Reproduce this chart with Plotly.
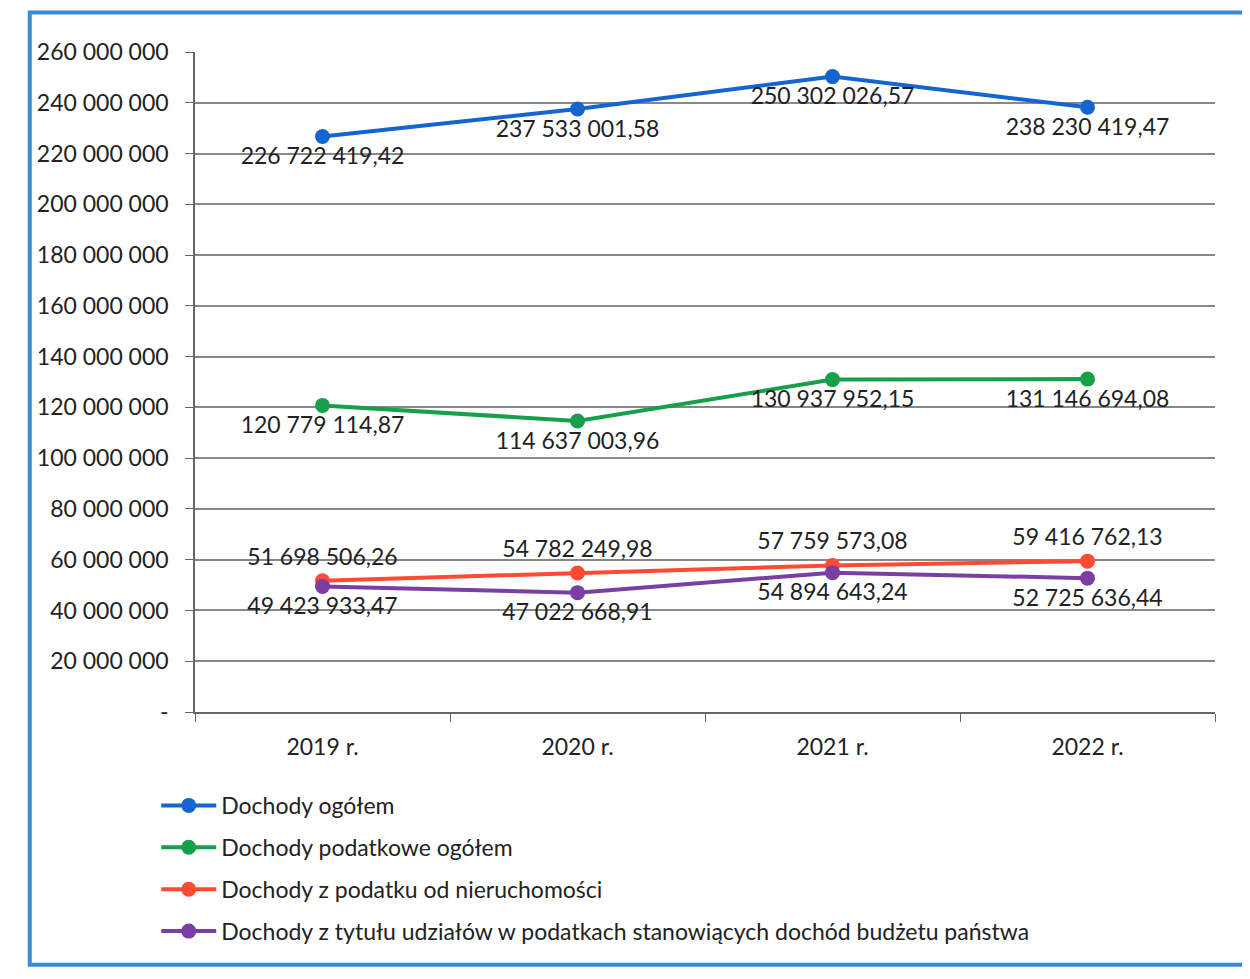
import plotly.graph_objects as go

years = ["2019 r.", "2020 r.", "2021 r.", "2022 r."]
dochody_ogolem = [226722419.42, 237533001.58, 250302026.57, 238230419.47]
dochody_podatkowe = [120779114.87, 114637003.96, 130937952.15, 131146694.08]
dochody_nieruchomosci = [51698506.26, 54782249.98, 57759573.08, 59416762.13]
dochody_udzialy = [49423933.47, 47022668.91, 54894643.24, 52725636.44]

series_names = [
    "Dochody ogółem",
    "Dochody podatkowe ogółem",
    "Dochody z podatku od nieruchomości",
    "Dochody z tytułu udziałów w podatkach stanowiących dochód budżetu państwa",
]
series_colors = ["#1565d0", "#17a04a", "#ff4b33", "#7a3fa3"]
label_pos = ["bottom center", "bottom center", "top center", "bottom center"]

tick_vals = [0, 20e6, 40e6, 60e6, 80e6, 100e6, 120e6, 140e6, 160e6, 180e6, 200e6, 220e6, 240e6, 260e6]
tick_text = ["-", "20 000 000", "40 000 000", "60 000 000", "80 000 000", "100 000 000",
             "120 000 000", "140 000 000", "160 000 000", "180 000 000", "200 000 000",
             "220 000 000", "240 000 000", "260 000 000"]

FONT = "Lato"
FS = 23
fig = go.Figure()
for i, (name, vals, col, pos) in enumerate(zip(series_names,
                                [dochody_ogolem, dochody_podatkowe, dochody_nieruchomosci, dochody_udzialy],
                                series_colors, label_pos)):
    fig.add_trace(go.Scatter(
        x=years, y=vals, name=name, mode="lines+markers+text",
        legendgroup="g%d" % i,
        line=dict(color=col, width=4), marker=dict(color=col, size=15),
        texttemplate="%{y:,.2f}", textposition=pos,
        textfont=dict(family=FONT, size=FS, color="#222"),
        cliponaxis=False,
    ))

fig.update_layout(
    width=1250, height=979,
    margin=dict(l=187, r=43, t=44, b=275),
    paper_bgcolor="white", plot_bgcolor="white",
    separators=", ",
    font=dict(family=FONT, size=FS, color="#222"),
    showlegend=True,
    legend=dict(orientation="v", x=-0.038, xanchor="left", y=-0.109, yanchor="top",
                bgcolor="rgba(0,0,0,0)",
                font=dict(family=FONT, size=FS, color="#222"), tracegroupgap=9,
                itemwidth=55),
    xaxis=dict(showgrid=False, showline=True, linecolor="#666", linewidth=1.5,
               ticks="outside", tickson="boundaries", ticklen=8, tickcolor="#666",
               ticklabelstandoff=14,
               tickfont=dict(family=FONT, size=FS, color="#222"), range=[-0.5, 3.5]),
    yaxis=dict(range=[0, 260e6], tickvals=tick_vals, ticktext=tick_text,
               showgrid=True, gridcolor="#888", gridwidth=1.5,
               showline=True, linecolor="#666", linewidth=1.5,
               ticks="outside", ticklen=8, tickcolor="#666", zeroline=False,
               ticklabelstandoff=12,
               tickfont=dict(family=FONT, size=FS, color="#222")),
    shapes=[dict(type="rect", xref="paper", yref="paper",
                 x0=-0.162, x1=1.029, y0=-0.383, y1=1.06,
                 line=dict(color="#3a8ad8", width=4))],
)
fig.write_html("out.html")
